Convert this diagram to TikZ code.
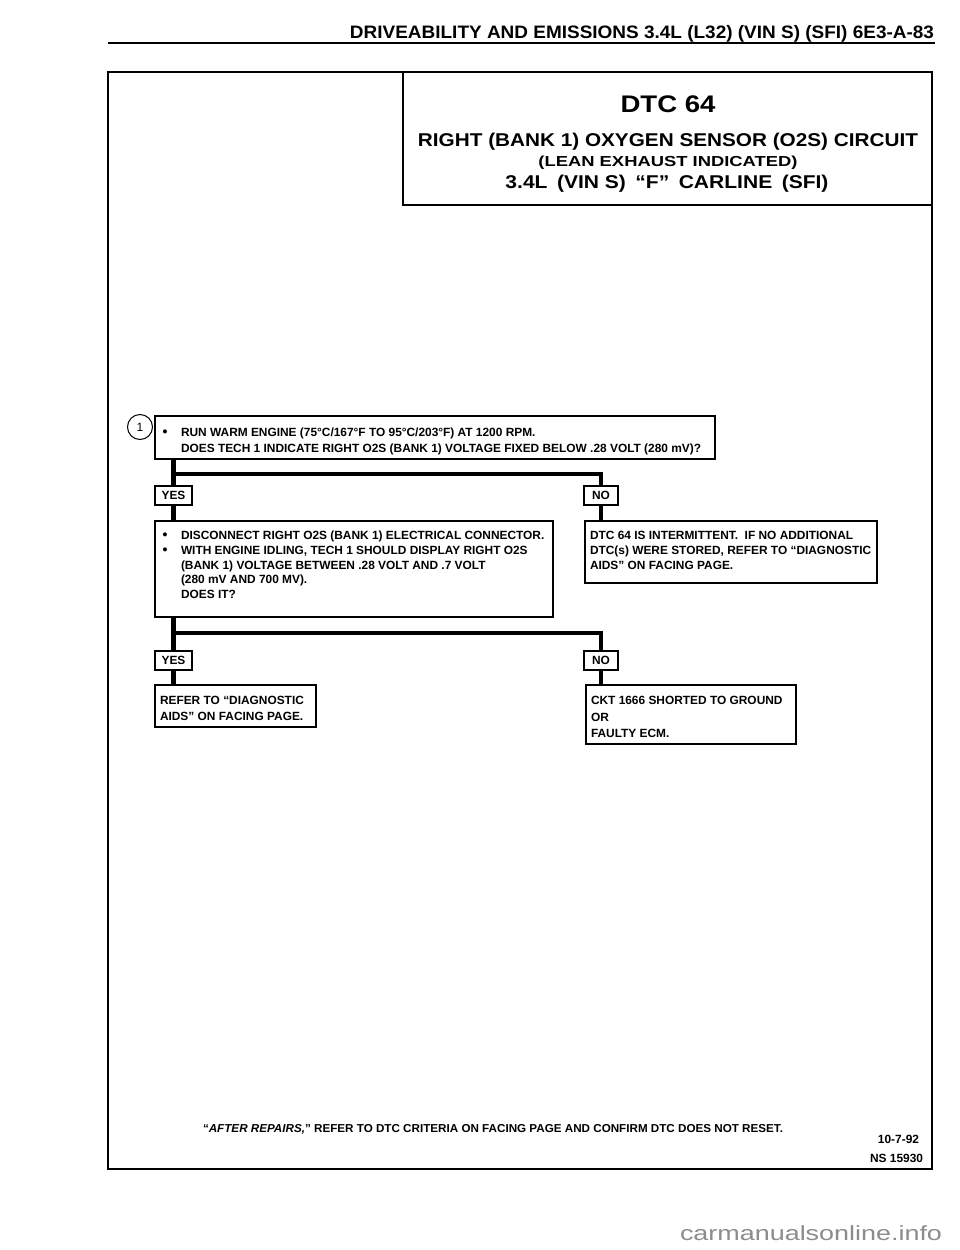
\documentclass[tikz,border=0pt]{standalone}
\usepackage{fontspec}
\setmainfont{Liberation Sans}
\usepackage{graphicx}
\newcommand{\fw}[2]{\resizebox{#1pt}{\height}{#2}}
\begin{document}
\begin{tikzpicture}[x=1pt,y=-1pt,
  txt/.style={inner sep=0pt, outer sep=0pt, anchor=base west, font=\bfseries\fontsize{11.9}{14}\selectfont},
  bul/.style={inner sep=0pt, outer sep=0pt, anchor=base, font=\bfseries\fontsize{14}{14}\selectfont},
  box/.style={draw, line width=1.2pt, inner sep=0pt, outer sep=0pt},
  tag/.style={draw, line width=1.2pt, inner sep=0pt, outer sep=0pt, minimum height=19pt, font=\bfseries\fontsize{11.9}{12}\selectfont},
  conn/.style={line width=4.5pt, line join=miter}]
\useasboundingbox (0,0) rectangle (960,1250);
\fill[white] (0,0) rectangle (960,1250);

% header
\node[txt, anchor=base east, font=\bfseries\fontsize{18}{18}\selectfont] (hdr) at (934,38) {\fw{584}{DRIVEABILITY AND EMISSIONS 3.4L (L32) (VIN S) (SFI) 6E3-A-83}};
\draw[line width=2.5pt] (108,43) -- (935,43);

% frame and title box
\draw[line width=2.5pt] (108,72) rectangle (932,1169);
\draw[line width=1.5pt] (403,72) -- (403,205) -- (932,205);
\node[txt, anchor=base, font=\bfseries\fontsize{24}{24}\selectfont] (t1) at (668,112) {\fw{95}{DTC 64}};
\node[txt, anchor=base, font=\bfseries\fontsize{18.5}{18.5}\selectfont] (t2) at (668,146) {\fw{500}{RIGHT (BANK 1) OXYGEN SENSOR (O2S) CIRCUIT}};
\node[txt, anchor=base, font=\bfseries\fontsize{14.5}{14.5}\selectfont] (t3) at (668,166.5) {\fw{259}{(LEAN EXHAUST INDICATED)}};
\node[txt, anchor=base, font=\bfseries\fontsize{18.5}{18.5}\selectfont] (t4) at (667,188) {\fw{323}{3.4L\hspace{0.45em}(VIN S)\hspace{0.45em}“F”\hspace{0.45em}CARLINE\hspace{0.45em}(SFI)}};

% step 1
\node[circle, draw, line width=1pt, minimum size=25pt, inner sep=0pt, font=\fontsize{12}{12}\selectfont] (c1) at (140,427) {1};
\node[box, minimum width=560pt, minimum height=43pt] (box1) at (435,437.5) {};
\node[bul] (b11) at (165,436.5) {•};
\node[txt] (l11) at (181,436.5) {RUN WARM ENGINE (75°C/167°F TO 95°C/203°F) AT 1200 RPM.};
\node[txt] (l12) at (181,452.5) {DOES TECH 1 INDICATE RIGHT O2S (BANK 1) VOLTAGE FIXED BELOW .28 VOLT (280 mV)?};

\coordinate (bar1) at (0,474);
\node[tag, minimum width=37pt] (yes1) at (173.5,495.5) {YES};
\node[tag, minimum width=34pt] (no1t) at (601,495.5) {NO};

% step 2
\node[box, minimum width=398pt, minimum height=96pt] (box2) at (354,569) {};
\node[bul] (b21) at (165,539.5) {•};
\node[txt] (l21) at (181,539.5) {DISCONNECT RIGHT O2S (BANK 1) ELECTRICAL CONNECTOR.};
\node[bul] (b22) at (165,554.5) {•};
\node[txt] (l22) at (181,554.5) {WITH ENGINE IDLING, TECH 1 SHOULD DISPLAY RIGHT O2S};
\node[txt] (l23) at (181,569.5) {(BANK 1) VOLTAGE BETWEEN .28 VOLT AND .7 VOLT};
\node[txt] (l24) at (181,583.5) {(280 mV AND 700 MV).};
\node[txt] (l25) at (181,598.5) {DOES IT?};

\node[box, minimum width=292pt, minimum height=62pt] (no1) at (731,552) {};
\node[txt] (n11) at (590,539.5) {DTC 64 IS INTERMITTENT.\ \ IF NO ADDITIONAL};
\node[txt] (n12) at (590,554.5) {DTC(s) WERE STORED, REFER TO “DIAGNOSTIC};
\node[txt] (n13) at (590,569.5) {AIDS” ON FACING PAGE.};

\coordinate (bar2) at (0,633);
\node[tag, minimum width=37pt] (yes2) at (173.5,660.5) {YES};
\node[tag, minimum width=34pt] (no2t) at (601,660.5) {NO};

% results
\node[box, minimum width=161pt, minimum height=42pt] (refer) at (235.5,706) {};
\node[txt] (r1) at (160,704) {REFER TO “DIAGNOSTIC};
\node[txt] (r2) at (160,720) {AIDS” ON FACING PAGE.};

\node[box, minimum width=210pt, minimum height=59pt] (ckt) at (691,714.5) {};
\node[txt] (k1) at (591,704) {CKT 1666 SHORTED TO GROUND};
\node[txt] (k2) at (591,721) {OR};
\node[txt] (k3) at (591,737) {FAULTY ECM.};

% connectors
\draw[conn] (box1.south -| yes1.north) -- (yes1.north);
\draw[conn] (yes1.north |- bar1) -| (no1t.north);
\draw[conn] (yes1.south) -- (yes1.south |- box2.north);
\draw[conn] (no1t.south) -- (no1t.south |- no1.north);
\draw[conn] (box2.south -| yes2.north) -- (yes2.north);
\draw[conn] (yes2.north |- bar2) -| (no2t.north);
\draw[conn] (yes2.south) -- (yes2.south |- refer.north);
\draw[conn] (no2t.south) -- (no2t.south |- ckt.north);

% footer
\node[txt, font=\bfseries\fontsize{11.5}{11.5}\selectfont] (ar) at (203,1132) {\fw{580}{“\textit{AFTER REPAIRS,}” REFER TO DTC CRITERIA ON FACING PAGE AND CONFIRM DTC DOES NOT RESET.}};
\node[txt, anchor=base east] (d1) at (919,1143) {10-7-92};
\node[txt, anchor=base east] (d2) at (923,1162) {NS 15930};

\node[txt, anchor=base west, font=\fontsize{20.5}{20.5}\selectfont, text=black!45] (wm) at (680,1240) {\fw{262}{carmanualsonline.info}};
\end{tikzpicture}
\end{document}
